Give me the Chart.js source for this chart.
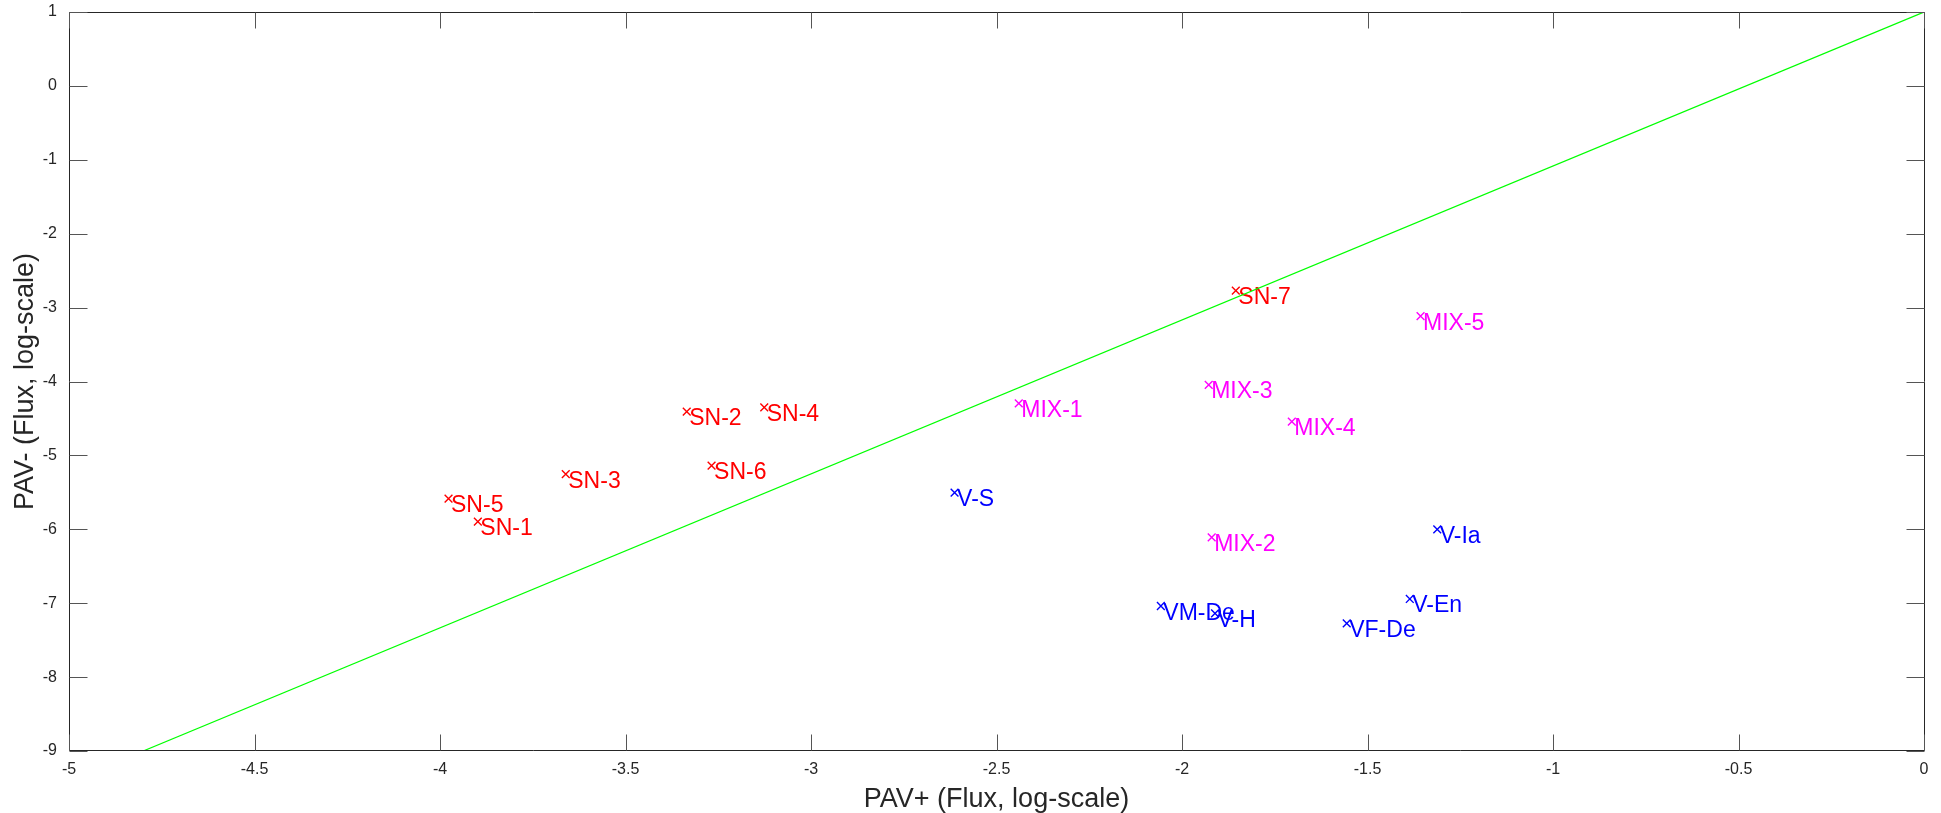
<!DOCTYPE html>
<html>
<head>
<meta charset="utf-8">
<script src="https://cdn.jsdelivr.net/npm/chart.js@4/dist/chart.umd.min.js"></script>
<style>
html,body{margin:0;padding:0;background:#fff;}
#wrap{width:1941px;height:813px;position:relative;}
</style>
</head>
<body>
<div id="wrap"><canvas id="c" width="1941" height="813"></canvas></div>
<script>
// ---- data ----
const snLabels = ['SN-1','SN-2','SN-3','SN-4','SN-5','SN-6','SN-7'];
const snX = [-3.898, -3.335, -3.661, -3.126, -3.977, -3.268, -1.855];
const snY = [-5.897, -4.409, -5.252, -4.349, -5.586, -5.139, -2.771];

const mixLabels = ['MIX-1','MIX-2','MIX-3','MIX-4','MIX-5'];
const mixX = [-2.440, -1.920, -1.928, -1.704, -1.357];
const mixY = [-4.295, -6.108, -4.047, -4.544, -3.114];

const vLabels = ['V-S','V-Ia','V-En','VM-De','V-H','VF-De'];
const vX = [-2.613, -1.312, -1.386, -2.057, -1.911, -1.556];
const vY = [-5.505, -6.000, -6.943, -7.038, -7.137, -7.272];

const refLineX = [-4.8, 0];
const refLineY = [-9, 1];

const xTicks = [-5, -4.5, -4, -3.5, -3, -2.5, -2, -1.5, -1, -0.5, 0];
const yTicks = [-9, -8, -7, -6, -5, -4, -3, -2, -1, 0, 1];

const xTitle = 'PAV+ (Flux, log-scale)';
const yTitle = 'PAV- (Flux, log-scale)';

// ---- build ----
const zip = (xs, ys) => xs.map((x, i) => ({x: x, y: ys[i]}));
const FONT = "'Liberation Sans', Arial, Helvetica, sans-serif";
const AXIS_COLOR = '#262626';

function pointSet(labels, xs, ys, color) {
  return {
    type: 'scatter',
    data: zip(xs, ys),
    pointLabels: labels,
    borderColor: color,
    backgroundColor: color,
    pointStyle: 'crossRot',
    pointRadius: 5.5,
    pointBorderWidth: 1.4,
    pointHoverRadius: 5.5
  };
}

const labelPlugin = {
  id: 'pointLabels',
  beforeDatasetsDraw(chart) {
    const ctx = chart.ctx;
    ctx.save();
    ctx.font = '23px ' + FONT;
    ctx.textAlign = 'left';
    ctx.textBaseline = 'alphabetic';
    chart.data.datasets.forEach((ds, di) => {
      if (!ds.pointLabels) return;
      const meta = chart.getDatasetMeta(di);
      ctx.fillStyle = ds.borderColor;
      meta.data.forEach((el, i) => {
        ctx.fillText(ds.pointLabels[i], el.x + 2.5, el.y + 13.5);
      });
    });
    ctx.restore();
  }
};

const boxPlugin = {
  id: 'matlabBox',
  afterDatasetsDraw(chart) {
    const ctx = chart.ctx;
    const a = chart.chartArea;
    const xs = chart.scales.x, ys = chart.scales.y;
    const L = Math.round(a.left) + 0.5, R = Math.round(a.right) + 0.5;
    const T = Math.round(a.top) + 0.5, B = Math.round(a.bottom) - 0.5;
    ctx.save();
    ctx.strokeStyle = AXIS_COLOR;
    ctx.lineWidth = 1;
    ctx.beginPath();
    ctx.rect(L, T, R - L, B - T);
    ctx.stroke();
    ctx.strokeStyle = '#555';
    ctx.beginPath();
    xTicks.forEach(v => {
      const px = Math.round(xs.getPixelForValue(v)) + 0.5;
      ctx.moveTo(px, B); ctx.lineTo(px, B - 16);
      ctx.moveTo(px, T); ctx.lineTo(px, T + 16);
    });
    yTicks.forEach(v => {
      const py = Math.round(ys.getPixelForValue(v)) + 0.5;
      ctx.moveTo(L, py); ctx.lineTo(L + 18, py);
      ctx.moveTo(R, py); ctx.lineTo(R - 18, py);
    });
    ctx.stroke();
    ctx.restore();
  }
};

const fmt = v => String(Math.round(v * 10) / 10);
function zeroPad(s) { s.paddingTop = 0; s.paddingBottom = 0; s.paddingLeft = 0; s.paddingRight = 0; }

new Chart(document.getElementById('c'), {
  data: {
    datasets: [
      {
        type: 'line',
        data: zip(refLineX, refLineY),
        borderColor: '#00ff00',
        borderWidth: 1.2,
        pointRadius: 0,
        fill: false,
        tension: 0
      },
      pointSet(snLabels, snX, snY, '#ff0000'),
      pointSet(mixLabels, mixX, mixY, '#ff00ff'),
      pointSet(vLabels, vX, vY, '#0000ff')
    ]
  },
  options: {
    responsive: false,
    animation: false,
    events: [],
    layout: { padding: { top: 12, right: 17, left: 0, bottom: 0 } },
    plugins: { legend: { display: false }, tooltip: { enabled: false } },
    scales: {
      x: {
        type: 'linear',
        min: -5, max: 0,
        afterFit(s) { s.height = 62; zeroPad(s); },
        afterBuildTicks(s) { s.ticks = xTicks.map(v => ({value: v})); },
        grid: { display: false, drawTicks: false },
        border: { display: false },
        ticks: {
          callback: fmt,
          color: AXIS_COLOR,
          font: { family: FONT, size: 16 },
          padding: 9,
          maxRotation: 0,
          autoSkip: false
        },
        title: {
          display: true,
          text: xTitle,
          color: AXIS_COLOR,
          font: { family: FONT, size: 27 },
          padding: { top: 0, bottom: -3 }
        }
      },
      y: {
        type: 'linear',
        min: -9, max: 1,
        afterFit(s) { s.width = 69; zeroPad(s); },
        afterBuildTicks(s) { s.ticks = yTicks.map(v => ({value: v})); },
        grid: { display: false, drawTicks: false },
        border: { display: false },
        ticks: {
          callback: fmt,
          color: AXIS_COLOR,
          font: { family: FONT, size: 16 },
          padding: 12,
          autoSkip: false
        },
        title: {
          display: true,
          text: yTitle,
          color: AXIS_COLOR,
          font: { family: FONT, size: 27 },
          padding: { top: 9, bottom: 0 }
        }
      }
    }
  },
  plugins: [labelPlugin, boxPlugin]
});
</script>
</body>
</html>
